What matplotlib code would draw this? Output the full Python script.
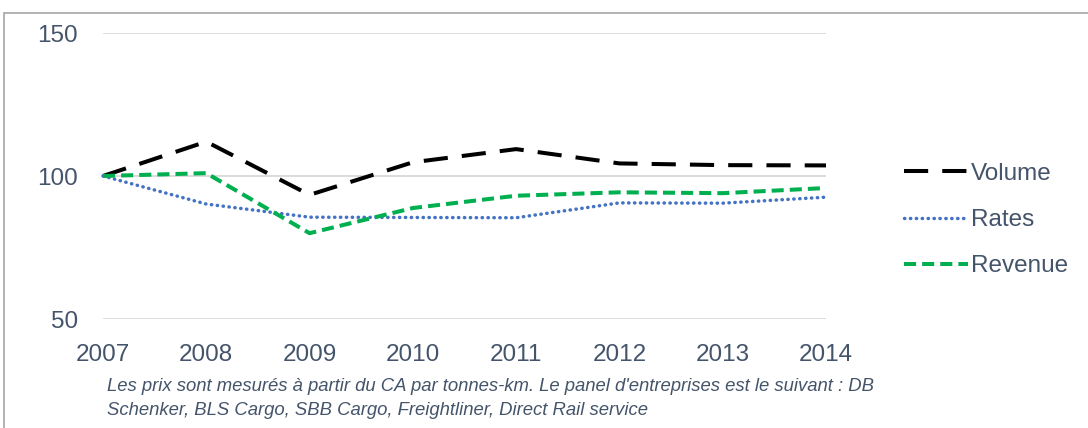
import matplotlib.pyplot as plt
from matplotlib.patches import Rectangle

# données
years = [2007, 2008, 2009, 2010, 2011, 2012, 2013, 2014]
volume = [100, 112, 93.4, 104.8, 109.4, 104.4, 103.8, 103.7]
rates = [100, 90.2, 85.6, 85.5, 85.4, 90.6, 90.5, 92.6]
revenue = [100, 101, 80, 88.8, 93.1, 94.3, 94, 95.8]
yticks = [50, 100, 150]
note = ("Les prix sont mesurés à partir du CA par tonnes-km. Le panel d'entreprises est le suivant : DB\n"
        "Schenker, BLS Cargo, SBB Cargo, Freightliner, Direct Rail service")

plt.rcParams['font.family'] = ['Liberation Sans', 'DejaVu Sans']
text_color = '#44546A'

fig = plt.figure(figsize=(10.88, 4.28), dpi=100)
ax = fig.add_axes([103 / 1088, 1 - 319 / 428, (826 - 103) / 1088, (319 - 33) / 428])

ax.plot(years, volume, color='black', lw=2.9, linestyle=(0, (6, 3.5)), label='Volume', clip_on=False)
ax.plot(years, rates, color='#4472C4', lw=2.5, linestyle=(0, (0.1, 1.6)), dash_capstyle='round',
        label='Rates', clip_on=False)
ax.plot(years, revenue, color='#00B050', lw=2.9, linestyle=(0, (3.0, 1.5)), label='Revenue', clip_on=False)

ax.set_xlim(2007, 2014)
ax.set_ylim(50, 150)
ax.set_xticks(years)
ax.set_yticks(yticks)
ax.grid(axis='y', color='#D9D9D9', lw=1.3)
ax.set_axisbelow(True)
for s in ax.spines.values():
    s.set_visible(False)
ax.tick_params(length=0, labelsize=17.5, labelcolor=text_color)
ax.tick_params(axis='y', pad=18)
ax.tick_params(axis='x', pad=18)

leg = ax.legend(loc='upper left', bbox_to_anchor=(1.095, 0.58), frameon=False, fontsize=17.5,
                handlelength=2.6, handletextpad=0.15, labelspacing=1.0, borderaxespad=0)
for t in leg.get_texts():
    t.set_color(text_color)

fig.text(107 / 1088, 1 - 378 / 428, note, fontsize=13.3, style='italic', color=text_color,
         va='top', linespacing=1.55)

# cadre
fig.patches.append(Rectangle((4 / 1088, -0.1), 1.2, 1 - 13 / 428 + 0.1, transform=fig.transFigure,
                             fill=False, edgecolor='#A6A6A6', lw=1.2))

fig.savefig('out.png', dpi=100)
